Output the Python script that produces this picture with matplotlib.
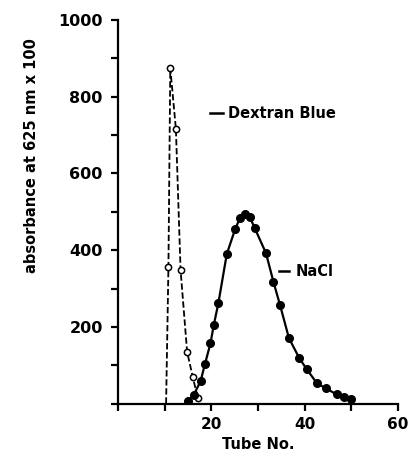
import matplotlib
matplotlib.use("Agg")
import matplotlib.pyplot as plt

# Dextran Blue (dashed, open circles)
dex_x = [10.3, 10.8, 11.2, 12.4, 13.4, 14.8, 16.0, 17.1]
dex_y = [0, 355, 874, 716, 348, 135, 70, 14]
dex_marked = [False, True, True, True, True, True, True, True]

# NaCl (solid, filled circles)
nacl_x = [14.9, 16.2, 17.7, 18.6, 19.8, 20.5, 21.5, 23.3, 25.1, 26.1, 27.2, 28.2,
          29.3, 31.7, 33.3, 34.7, 36.6, 38.8, 40.4, 42.6, 44.5, 46.8, 48.4, 50.0]
nacl_y = [6, 22, 59, 102, 157, 204, 262, 390, 455, 483, 493, 487,
          457, 392, 317, 257, 171, 119, 90, 53, 40, 24, 16, 11]

y_ticks = list(range(0, 1001, 100))
y_labels = ["" if v % 200 or v == 0 else str(v) for v in y_ticks]
x_ticks = list(range(0, 61, 10))
x_labels = ["" if v not in (20, 40, 60) else str(v) for v in x_ticks]

fig = plt.figure(figsize=(4.09, 4.55), dpi=100)
ax = fig.add_axes([0.2885, 0.113, 0.685, 0.843])

ax.plot(dex_x, dex_y, linestyle=(0, (3.5, 1.5)), color="black", lw=1.3)
mx = [x for x, m in zip(dex_x, dex_marked) if m]
my = [y for y, m in zip(dex_y, dex_marked) if m]
ax.plot(mx, my, linestyle="none", marker="o", ms=4.5, mfc="white", mec="black", mew=1.1)

ax.plot(nacl_x, nacl_y, "-", color="black", lw=1.6, marker="o", ms=5.5, mfc="black", mec="black")

ax.set_xlim(0, 60)
ax.set_ylim(0, 1000)
ax.set_yticks(y_ticks)
ax.set_yticklabels(y_labels)
ax.set_xticks(x_ticks)
ax.set_xticklabels(x_labels)
for s in ("top", "right"):
    ax.spines[s].set_visible(False)
for s in ("left", "bottom"):
    ax.spines[s].set_linewidth(1.6)
ax.tick_params(axis="y", direction="out", length=5, width=1.6, labelsize=11.5, pad=6)
ax.tick_params(axis="x", direction="out", length=5, width=1.6, labelsize=11, pad=5)
for lab in ax.get_xticklabels() + ax.get_yticklabels():
    lab.set_fontweight("bold")

ax.set_xlabel("Tube No.", fontsize=10.5, fontweight="bold", labelpad=3)
ax.set_ylabel("absorbance at 625 nm x 100", fontsize=10.5, fontweight="bold", va="center")
ax.yaxis.set_label_coords(-0.31, 0.647)

# labels with leader dashes
ax.plot([19.8, 22.4], [757, 757], color="black", lw=1.8)
ax.text(23.6, 757, "Dextran Blue", fontsize=10.5, fontweight="bold", va="center", ha="left")
ax.plot([34.4, 36.7], [345, 345], color="black", lw=1.8)
ax.text(38.0, 345, "NaCl", fontsize=10.5, fontweight="bold", va="center", ha="left")

fig.savefig("out.png", dpi=100)
